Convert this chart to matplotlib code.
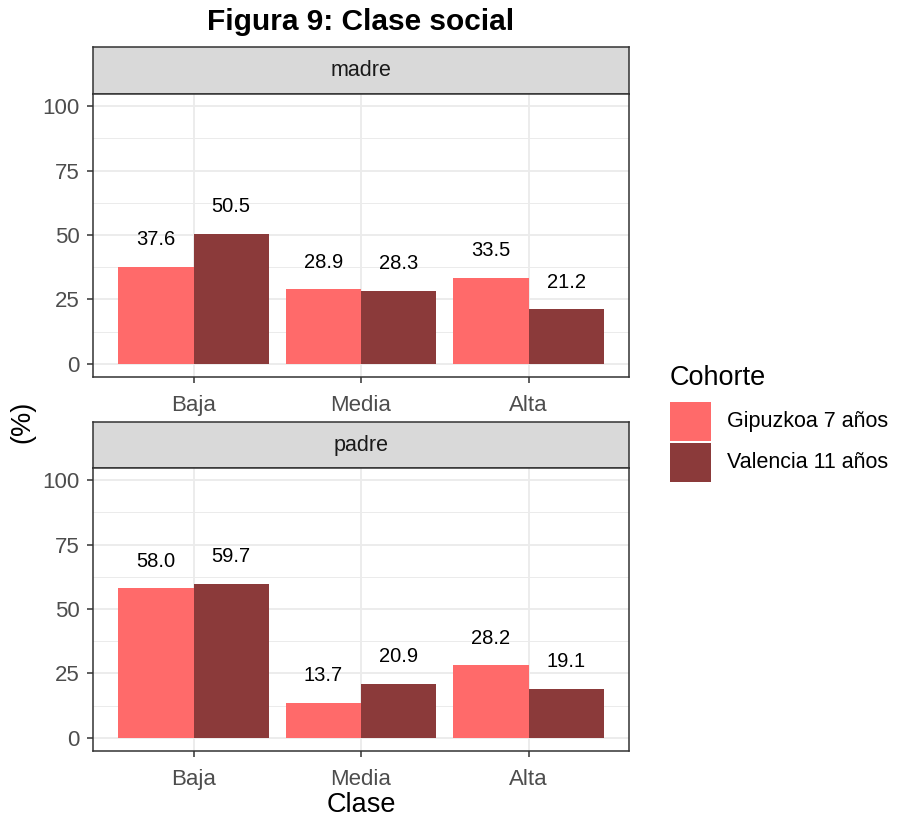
import matplotlib
matplotlib.use("Agg")
import matplotlib.pyplot as plt
from matplotlib.patches import Rectangle
import numpy as np

plt.rcParams['font.family'] = ['Liberation Sans', 'DejaVu Sans']

categories = ["Baja", "Media", "Alta"]
panels = ["madre", "padre"]
series = ["Gipuzkoa 7 años", "Valencia 11 años"]
madre_gipuzkoa = [37.6, 28.9, 33.5]
madre_valencia = [50.5, 28.3, 21.2]
padre_gipuzkoa = [58.0, 13.7, 28.2]
padre_valencia = [59.7, 20.9, 19.1]
yticks = [0, 25, 50, 75, 100]

data = {
    "madre": [madre_gipuzkoa, madre_valencia],
    "padre": [padre_gipuzkoa, padre_valencia],
}
colors = ["#FF6A6A", "#8B3A3A"]

W, H = 903, 817
fig = plt.figure(figsize=(W / 100, H / 100), dpi=100)

def px_axes(x0, y0, x1, y1):
    return fig.add_axes([x0 / W, 1 - y1 / H, (x1 - x0) / W, (y1 - y0) / H])

panel_boxes = [(93, 47, 94, 377), (93, 422, 468, 751)]
x_right = 629
grid_col = "#EBEBEB"
border_col = "#333333"

for (x0, ys, yp, ye), pname in zip(panel_boxes, panels):
    # strip
    sax = px_axes(x0, ys, x_right, yp)
    sax.set_xlim(0, 1); sax.set_ylim(0, 1)
    sax.add_patch(Rectangle((0, 0), 1, 1, facecolor="#D9D9D9", edgecolor="none"))
    sax.set_xticks([]); sax.set_yticks([])
    for sp in sax.spines.values():
        sp.set_color(border_col); sp.set_linewidth(1.1)
    sax.text(0.5, 0.5, pname, ha="center", va="center", fontsize=15.5, color="#1A1A1A")

    ax = px_axes(x0, yp, x_right, ye)
    ax.set_xlim(0.4, 3.6)
    ax.set_ylim(-5.1, 104.7)
    ax.set_axisbelow(True)
    for yv in np.arange(0, 101, 12.5):
        ax.axhline(yv, color=grid_col, lw=1.3 if yv % 25 == 0 else 0.7, zorder=0)
    for xv in range(1, 4):
        ax.axvline(xv, color=grid_col, lw=1.3, zorder=0)
    x = np.arange(1, 4)
    w = 0.45
    for i, (vals, c) in enumerate(zip(data[pname], colors)):
        xs = x - w / 2 + i * w
        ax.bar(xs, vals, width=w, color=c, zorder=2, label=series[i])
        for xi, v in zip(xs, vals):
            ax.text(xi, v + 10.5, f"{v:.1f}", ha="center", va="center", fontsize=14.5, color="black")
    ax.set_xticks(x)
    ax.set_xticklabels(categories)
    ax.set_yticks(yticks)
    ax.tick_params(axis="both", colors="#333333", labelcolor="#4D4D4D", labelsize=16,
                   length=4.5, width=1.1, pad=5)
    ax.tick_params(axis="x", pad=8.5)
    for sp in ax.spines.values():
        sp.set_color(border_col); sp.set_linewidth(1.1)

fig.text(361 / W, 1 - 22 / H, "Figura 9: Clase social", ha="center", va="center",
         fontsize=21.5, fontweight="bold")
fig.text(22 / W, 1 - 422 / H, "(%)", ha="center", va="center", rotation=90, fontsize=19.5)
fig.text(361 / W, 1 - 805 / H, "Clase", ha="center", va="center", fontsize=19.5)

# legend
fig.text(670 / W, 1 - 378 / H, "Cohorte", ha="left", va="center", fontsize=19.5)
key_boxes = [(670, 402, 711, 441), (670, 443, 711, 482)]
for (kx0, ky0, kx1, ky1), c, lab in zip(key_boxes, colors, series):
    kax = px_axes(kx0, ky0, kx1, ky1)
    kax.set_xlim(0, 1); kax.set_ylim(0, 1)
    kax.add_patch(Rectangle((0, 0), 1, 1, facecolor=c, edgecolor="none"))
    kax.axis("off")
    fig.text(727 / W, 1 - ((ky0 + ky1) / 2) / H, lab, ha="left", va="center", fontsize=15.5)

fig.savefig("out.png", dpi=100)
